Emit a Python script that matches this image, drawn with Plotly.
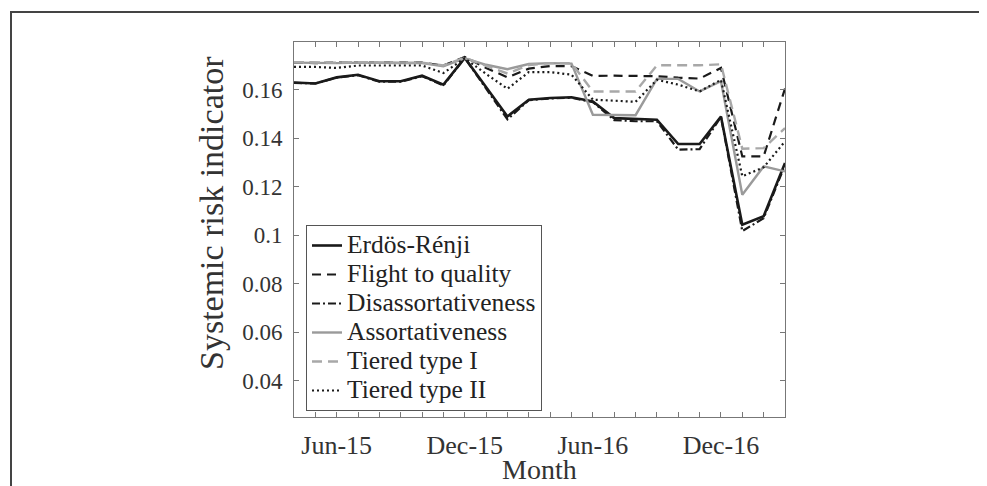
import plotly.graph_objects as go

months = ["Apr-15", "May-15", "Jun-15", "Jul-15", "Aug-15", "Sep-15", "Oct-15", "Nov-15",
          "Dec-15", "Jan-16", "Feb-16", "Mar-16", "Apr-16", "May-16", "Jun-16", "Jul-16",
          "Aug-16", "Sep-16", "Oct-16", "Nov-16", "Dec-16", "Jan-17", "Feb-17", "Mar-17"]
tick_labels = ["", "", "Jun-15", "", "", "", "", "", "Dec-15", "", "", "", "", "", "Jun-16",
               "", "", "", "", "", "Dec-16", "", "", ""]
y_ticks = [0.04, 0.06, 0.08, 0.1, 0.12, 0.14, 0.16]
y_tick_labels = ["0.04", "0.06", "0.08", "0.1", "0.12", "0.14", "0.16"]

erdos_renji = [0.1630, 0.1626, 0.1651, 0.1662, 0.1635, 0.1635, 0.1658, 0.1621, 0.1731, 0.1610,
               0.1490, 0.1559, 0.1566, 0.1569, 0.1552, 0.1483, 0.1479, 0.1476, 0.1376, 0.1376,
               0.1490, 0.1043, 0.1078, 0.1298]
flight_to_quality = [0.1712, 0.1710, 0.1712, 0.1712, 0.1710, 0.1710, 0.1712, 0.1700, 0.1735, 0.1690,
                     0.1651, 0.1687, 0.1698, 0.1697, 0.1657, 0.1658, 0.1658, 0.1656, 0.1650, 0.1646,
                     0.1690, 0.1325, 0.1325, 0.1605]
disassortativeness = [0.1628, 0.1626, 0.1650, 0.1660, 0.1633, 0.1633, 0.1656, 0.1618, 0.1731, 0.1605,
                      0.1478, 0.1557, 0.1564, 0.1567, 0.1549, 0.1475, 0.1470, 0.1470, 0.1353, 0.1355,
                      0.1488, 0.1017, 0.1070, 0.1290]
assortativeness = [0.1712, 0.1710, 0.1710, 0.1712, 0.1710, 0.1710, 0.1710, 0.1697, 0.1730, 0.1703,
                   0.1685, 0.1706, 0.1710, 0.1708, 0.1497, 0.1495, 0.1495, 0.1645, 0.1645, 0.1593,
                   0.1635, 0.1167, 0.1284, 0.1263]
tiered_type_1 = [0.1714, 0.1712, 0.1712, 0.1714, 0.1712, 0.1712, 0.1712, 0.1700, 0.1733, 0.1698,
                 0.1667, 0.1702, 0.1710, 0.1710, 0.1593, 0.1593, 0.1593, 0.1701, 0.1701, 0.1701,
                 0.1705, 0.1357, 0.1359, 0.1442]
tiered_type_2 = [0.1694, 0.1694, 0.1690, 0.1700, 0.1700, 0.1700, 0.1700, 0.1669, 0.1730, 0.1665,
                 0.1604, 0.1673, 0.1673, 0.1662, 0.1559, 0.1555, 0.1550, 0.1641, 0.1621, 0.1593,
                 0.1641, 0.1243, 0.1280, 0.1387]

FONT = "Liberation Serif"
TXT = "#333333"

series = [
    ("Erdös-Rénji", erdos_renji, "#1a1a1a", "solid", 2.6),
    ("Flight to quality", flight_to_quality, "#1a1a1a", "9px,6px", 2.2),
    ("Disassortativeness", disassortativeness, "#1a1a1a", "8px,3px,2px,3px", 2.2),
    ("Assortativeness", assortativeness, "#9a9a9a", "solid", 2.4),
    ("Tiered type I", tiered_type_1, "#a8a8a8", "10px,6px", 2.4),
    ("Tiered type II", tiered_type_2, "#1a1a1a", "2px,3px", 2.2),
]

fig = go.Figure()
for name, vals, color, dash, w in series:
    fig.add_trace(go.Scatter(
        x=months, y=vals, mode="lines",
        name="<span style='font-size:25.5px'>" + name + "</span>",
        line=dict(color=color, dash=dash, width=w)))

L, R, T, B = 286, 987 - 777, 34, 486 - 409
PW, PH = 987 - L - R, 486 - T - B


def px_x(x):
    return (x - L) / PW


def px_y(y):
    return (409 - y) / PH


fig.update_layout(
    width=987, height=486,
    margin=dict(l=L, r=R, t=T, b=B, autoexpand=False),
    paper_bgcolor="white", plot_bgcolor="white",
    font=dict(family=FONT, color=TXT),
    showlegend=True,
    legend=dict(x=px_x(298), y=px_y(217), xanchor="left", yanchor="top",
                bordercolor="#555555", borderwidth=1, bgcolor="white",
                font=dict(family=FONT, size=20, color="#222222"),
                tracegroupgap=0, itemwidth=30),
    xaxis=dict(type="category", categoryorder="array", categoryarray=months,
               range=[0, 23], tickmode="array", tickvals=months, ticktext=tick_labels,
               ticks="inside", ticklen=5, tickcolor="#777777", tickwidth=1,
               showline=True, linecolor="#777777", linewidth=1, mirror="ticks",
               showgrid=False, zeroline=False, ticklabelstandoff=5,
               tickfont=dict(family=FONT, size=26, color=TXT)),
    yaxis=dict(range=[0.025, 0.1797], tickmode="array",
               tickvals=y_ticks, ticktext=y_tick_labels,
               ticks="inside", ticklen=5, tickcolor="#777777", tickwidth=1,
               showline=True, linecolor="#777777", linewidth=1, mirror="ticks",
               showgrid=False, zeroline=False, ticklabelstandoff=6,
               tickfont=dict(family=FONT, size=23, color=TXT)),
    annotations=[
        dict(text="Month", xref="paper", yref="paper", x=px_x(531.5), y=px_y(461),
             xanchor="center", yanchor="middle", showarrow=False,
             font=dict(family=FONT, size=28, color=TXT)),
        dict(text="Systemic risk indicator", xref="paper", yref="paper",
             x=px_x(204), y=px_y(205), textangle=-90,
             xanchor="center", yanchor="middle", showarrow=False,
             font=dict(family=FONT, size=34, color=TXT)),
    ],
    shapes=[dict(type="rect", xref="paper", yref="paper",
                 x0=px_x(3), x1=px_x(984), y0=px_y(490), y1=px_y(4),
                 line=dict(color="#444444", width=2), fillcolor="rgba(0,0,0,0)", layer="below")],
)

fig.write_html("out.html")
